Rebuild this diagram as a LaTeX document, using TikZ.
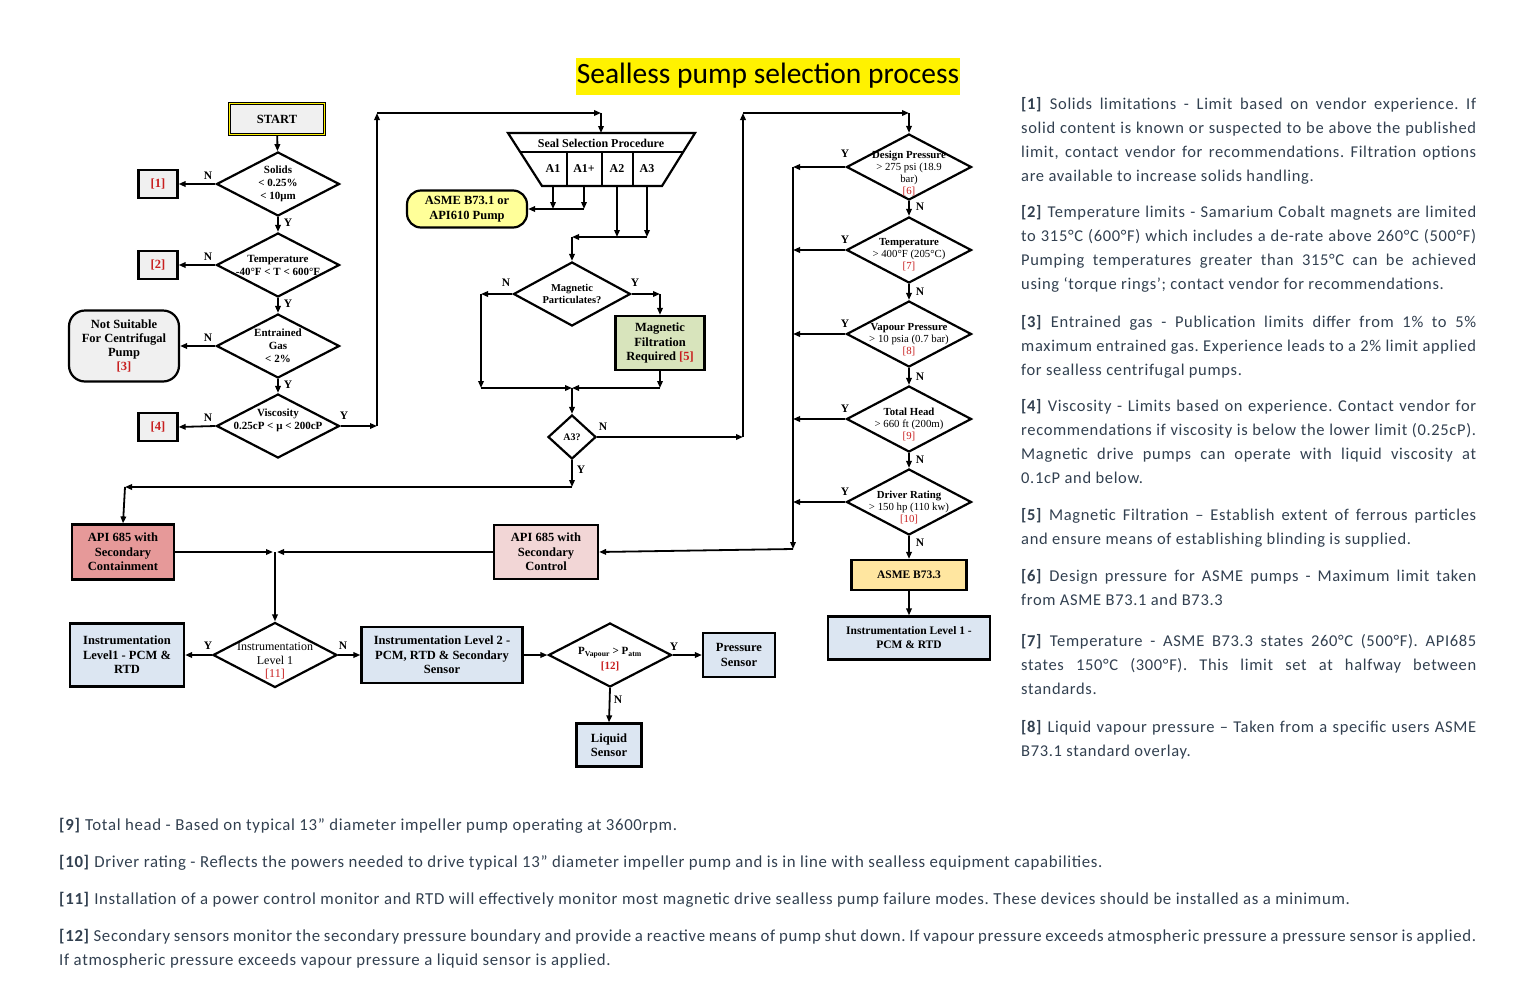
\documentclass[tikz,border=0pt]{standalone}
\usepackage{fontspec}
\setmainfont{Liberation Serif}
\newfontfamily\notefont[LetterSpace=4]{Carlito}
\newfontfamily\titlefont{Carlito}
\usetikzlibrary{shapes.geometric, arrows.meta}

\definecolor{boxgray}{RGB}{240,240,240}
\definecolor{refred}{RGB}{200,30,30}
\definecolor{paleyellow}{RGB}{255,255,153}
\definecolor{filtgreen}{RGB}{216,228,188}
\definecolor{contred}{RGB}{230,153,153}
\definecolor{ctrlpink}{RGB}{242,214,214}
\definecolor{asmeorange}{RGB}{255,230,160}
\definecolor{instblue}{RGB}{220,230,242}
\definecolor{notetext}{RGB}{50,64,80}

\newcommand{\refno}[1]{\textcolor{refred}{[#1]}}
\newcommand{\noteref}[1]{\textbf{[#1]}}
\hyphenpenalty=10000
\exhyphenpenalty=10000
\frenchspacing

\tikzset{
    flow/.style={draw, line width=2.2pt, align=center, inner sep=1pt,
        font=\bfseries\fontsize{12.5}{14.5}\selectfont},
    startbox/.style={flow, fill=boxgray, double=yellow, double distance=1.2pt,
        line width=1.2pt, minimum width=95pt, minimum height=31pt},
    refbox/.style={flow, fill=boxgray, minimum width=39pt, minimum height=28pt},
    stopbox/.style={flow, fill=boxgray, rounded corners=16pt, minimum width=110pt,
        minimum height=71pt, font=\bfseries\fontsize{12.5}{14}\selectfont},
    asmebox/.style={flow, fill=paleyellow, rounded corners=14pt,
        minimum width=120pt, minimum height=37pt},
    instbox/.style={flow, fill=instblue},
    decision/.style={diamond, draw, line width=2.2pt, inner sep=0pt,
        minimum width=123pt, minimum height=64pt},
    dtext/.style={align=center, inner sep=0pt, font=\bfseries\fontsize{11}{13}\selectfont},
    rtext/.style={align=center, inner sep=0pt, font=\fontsize{10.8}{12}\selectfont},
    celltext/.style={inner sep=0pt, font=\bfseries\fontsize{12}{13}\selectfont},
    yn/.style={inner sep=0pt, font=\bfseries\fontsize{11.5}{12}\selectfont},
    conn/.style={line width=1.8pt, -{Triangle[length=7pt,width=5.5pt]}},
    note/.style={anchor=base west, inner sep=0pt, text width=455pt, align=justify,
        text=notetext, font=\notefont\fontsize{16.5}{24}\selectfont},
    bnote/.style={anchor=base west, inner sep=0pt, text=notetext,
        font=\notefont\fontsize{16.8}{24}\selectfont},
}

\begin{document}
\begin{tikzpicture}[x=1pt, y=-1pt]
    \fill[white] (0,0) rectangle (1536,1004);
    \useasboundingbox (0,0) rectangle (1536,1004);

    % title
    \node[fill=yellow, inner sep=0pt, minimum width=384pt, minimum height=37pt,
        font=\titlefont\fontsize{29.5}{32}\selectfont] (title) at (768,76)
        {Sealless pump selection process};

    % left column
    \node[startbox] (start) at (277,119) {START};
    \node[decision, label={[dtext]center:{Solids\\< 0.25\%\\< 10μm}}] (solids) at (278,184) {};
    \node[decision, label={[dtext]center:{Temperature\\-40°F < T < 600°F}}] (temp) at (278,265) {};
    \node[decision, label={[dtext]center:{Entrained\\Gas\\< 2\%}}] (gas) at (278,346) {};
    \node[decision, label={[dtext, yshift=6pt]center:{Viscosity\\0.25cP < μ < 200cP}}] (visc) at (278,426) {};

    \node[refbox] (r1) at (158,184) {\refno{1}};
    \node[refbox] (r2) at (158,265) {\refno{2}};
    \node[stopbox] (nosuit) at (124,346) {Not Suitable\\For Centrifugal\\Pump\\\refno{3}};
    \node[refbox] (r4) at (158,427) {\refno{4}};

    \draw[conn] (start) -- (solids);
    \foreach \a/\b/\yy in {solids/temp/223, temp/gas/304, gas/visc/385} {
        \draw[conn] (\a.south) -- (\b.north);
        \node[yn] at (288,\yy) {Y};
    }
    \foreach \a/\b/\yy in {solids/r1/176, temp/r2/257, gas/nosuit/338, visc/r4/418} {
        \draw[conn] (\a.west) -- (\b.east);
        \node[yn] at (208,\yy) {N};
    }

    % up and over to the seal selection
    \coordinate (v1) at (377,426);
    \coordinate (v2) at (377,113);
    \coordinate (v3) at (601,113);
    \draw[conn] (visc.east) -- (v1);
    \draw[conn] (v1) -- (v2);
    \draw[conn] (v2) -- (v3);
    \draw[conn] (v3) -- (601,133);
    \node[yn] at (344,416) {Y};

    % seal selection procedure
    \draw[line width=2.2pt, fill=white] (508,133) -- (695,133) -- (662,186) -- (542,186) -- cycle;
    \draw[line width=1.6pt] (520,152) -- (683,152)
        (567,152) -- (567,186) (602,152) -- (602,186) (633,152) -- (633,186);
    \node[celltext] (seal) at (601,143) {Seal Selection Procedure};
    \node[celltext] (a1) at (553,169) {A1};
    \node[celltext] (a1p) at (584,169) {A1+};
    \node[celltext] (a2) at (617,169) {A2};
    \node[celltext] (a3) at (647,169) {A3};
    \coordinate (sealbot) at (601,187);

    \node[asmebox] (asme1) at (467,209) {ASME B73.1 or\\API610 Pump};
    \draw[conn] (a1 |- sealbot) -- (a1 |- asme1);
    \draw[conn] (a1p |- sealbot) -- (a1p |- asme1);
    \draw[conn] (a1p |- asme1) -- (asme1.east);

    % magnetic particulates
    \node[decision, minimum width=117pt, label={[dtext, font=\bfseries\fontsize{10.5}{12.5}\selectfont]center:{Magnetic\\Particulates?}}] (magpart) at (572,294) {};
    \node[flow, fill=filtgreen, minimum width=89pt, minimum height=54pt] (magfilt) at (660,343)
        {Magnetic\\Filtration\\Required \refno{5}};
    \coordinate (m1) at (572,237);
    \draw[conn] (a2 |- sealbot) -- (a2 |- m1);
    \draw[conn] (a3 |- sealbot) -- (a3 |- m1);
    \draw[conn] (a3 |- m1) -- (m1);
    \draw[conn] (m1) -- (magpart.north);

    \coordinate (jn) at (572,388);
    \coordinate (mw) at (481,294);
    \coordinate (me) at (660,294);
    \draw[conn] (magpart.west) -- (mw);
    \draw[conn] (mw) -- (mw |- jn);
    \draw[conn] (mw |- jn) -- (jn);
    \draw[conn] (magpart.east) -- (me);
    \draw[conn] (me) -- (magfilt.north);
    \draw[conn] (magfilt.south) -- (magfilt |- jn);
    \draw[conn] (magfilt |- jn) -- (jn);
    \node[yn] at (506,283) {N};
    \node[yn] at (635,283) {Y};

    % A3 ?
    \node[decision, minimum width=48pt, minimum height=44pt,
        label={[dtext, font=\bfseries\fontsize{10}{12}\selectfont]center:{A3?}}] (a3q) at (572,437) {};
    \draw[conn] (jn) -- (a3q.north);
    \coordinate (n1) at (743,437);
    \coordinate (n2) at (743,113);
    \coordinate (n3) at (909,113);
    \draw[conn] (a3q.east) -- (n1);
    \draw[conn] (n1) -- (n2);
    \draw[conn] (n2) -- (n3);
    \node[yn] at (603,427) {N};
    \coordinate (y1) at (572,487);
    \coordinate (y2) at (125,487);
    \draw[conn] (a3q.south) -- (y1);
    \draw[conn] (y1) -- (y2);
    \node[yn] at (581,470) {Y};

    % right column
    \node[decision, minimum width=125pt, minimum height=66pt,
        label={[rtext, yshift=-6pt]center:{\textbf{Design Pressure}\\> 275 psi (18.9\\bar)\\\refno{6}}}] (design) at (909,167) {};
    \node[decision, minimum width=125pt, minimum height=66pt,
        label={[rtext, yshift=-5pt]center:{\textbf{Temperature}\\> 400°F (205°C)\\\refno{7}}}] (rtemp) at (909,250) {};
    \node[decision, minimum width=125pt, minimum height=66pt,
        label={[rtext, yshift=-6pt]center:{\textbf{Vapour Pressure}\\> 10 psia (0.7 bar)\\\refno{8}}}] (vap) at (909,334) {};
    \node[decision, minimum width=125pt, minimum height=66pt,
        label={[rtext, yshift=-5pt]center:{\textbf{Total Head}\\> 660 ft (200m)\\\refno{9}}}] (head) at (909,419) {};
    \node[decision, minimum width=125pt, minimum height=66pt,
        label={[rtext, yshift=-5pt]center:{\textbf{Driver Rating}\\> 150 hp (110 kw)\\\refno{10}}}] (driver) at (909,502) {};
    \node[flow, fill=asmeorange, minimum width=115pt, minimum height=30pt,
        font=\bfseries\fontsize{11.5}{13}\selectfont] (asme3) at (909,575) {ASME B73.3};
    \node[instbox, minimum width=162pt, minimum height=43pt,
        font=\bfseries\fontsize{11.5}{14}\selectfont] (inst1r) at (909,638) {Instrumentation Level 1 -\\PCM \& RTD};

    \draw[conn] (n3) -- (design.north);
    \foreach \a/\b/\yy in {design/rtemp/207, rtemp/vap/292, vap/head/377, head/driver/460, driver/asme3/543} {
        \draw[conn] (\a.south) -- (\b.north);
        \node[yn] at (920,\yy) {N};
    }
    \draw[conn] (asme3) -- (inst1r);

    \coordinate (yb) at (793,549);
    \foreach \d/\yy in {design/154, rtemp/240, vap/324, head/409, driver/492} {
        \draw[conn] (\d.west) -- (\d.west -| yb);
        \node[yn] at (845,\yy) {Y};
    }
    \draw[conn] (yb |- design.west) -- (yb);

    % secondary containment / control
    \node[flow, fill=contred, minimum width=102pt, minimum height=55pt] (apic) at (123,552)
        {API 685 with\\Secondary\\Containment};
    \node[flow, fill=ctrlpink, minimum width=104pt, minimum height=54pt] (apictl) at (546,552)
        {API 685 with\\Secondary\\Control};
    \draw[conn] (y2) -- (apic.north);
    \draw[conn] (yb) -- (apictl.east);

    \coordinate (jc) at (275,552);
    \draw[conn] (apic.east) -- ([xshift=-2pt]jc);
    \draw[conn] (apictl.west) -- ([xshift=2pt]jc);

    % instrumentation
    \node[decision, minimum width=124pt, minimum height=65pt,
        label={[dtext, yshift=-6pt, font=\fontsize{12}{13.5}\selectfont]center:{Instrumentation\\Level 1\\\refno{11}}}] (inst) at (275,655) {};
    \draw[conn] (jc) -- (inst.north);
    \node[instbox, minimum width=114pt, minimum height=63pt] (lev1) at (127,655)
        {Instrumentation\\Level1 - PCM \&\\RTD};
    \node[instbox, minimum width=161pt, minimum height=56pt] (lev2) at (442,655)
        {Instrumentation Level 2 -\\PCM, RTD \& Secondary\\Sensor};
    \draw[conn] (inst.west) -- (lev1.east);
    \draw[conn] (inst.east) -- (lev2.west);
    \node[yn] at (208,646) {Y};
    \node[yn] at (343,646) {N};

    \node[decision, minimum width=123pt, minimum height=64pt,
        label={[dtext, yshift=-4pt]center:{P\textsubscript{Vapour} > P\textsubscript{atm}\\[2pt]\refno{12}}}] (pv) at (610,655) {};
    \node[instbox, minimum width=72pt, minimum height=44pt] (psens) at (739,655) {Pressure\\Sensor};
    \node[instbox, minimum width=65pt, minimum height=43pt] (lsens) at (609,745) {Liquid\\Sensor};
    \draw[conn] (lev2.east) -- (pv.west);
    \draw[conn] (pv.east) -- (psens.west);
    \draw[conn] (pv.south) -- (lsens.north);
    \node[yn] at (674,647) {Y};
    \node[yn] at (618,700) {N};

    % notes on the right
    \node[note] (t1) at (1021,109) {\noteref{1} Solids limitations - Limit based on vendor experience. If\linebreak
        solid content is known or suspected to be above the published\linebreak
        limit, contact vendor for recommendations. Filtration options\linebreak
        are available to increase solids handling.};
    \node[note] (t2) at (1021,217) {\noteref{2} Temperature limits - Samarium Cobalt magnets are limited\linebreak
        to 315°C (600°F) which includes a de-rate above 260°C (500°F)\linebreak
        Pumping temperatures greater than 315°C can be achieved\linebreak
        using ‘torque rings’; contact vendor for recommendations.};
    \node[note] (t3) at (1021,327) {\noteref{3} Entrained gas - Publication limits differ from 1\% to 5\%\linebreak
        maximum entrained gas. Experience leads to a 2\% limit applied\linebreak
        for sealless centrifugal pumps.};
    \node[note] (t4) at (1021,411) {\noteref{4} Viscosity - Limits based on experience. Contact vendor for\linebreak
        recommendations if viscosity is below the lower limit (0.25cP).\linebreak
        Magnetic drive pumps can operate with liquid viscosity at\linebreak
        0.1cP and below.};
    \node[note] (t5) at (1021,520) {\noteref{5} Magnetic Filtration – Establish extent of ferrous particles\linebreak
        and ensure means of establishing blinding is supplied.};
    \node[note] (t6) at (1021,581) {\noteref{6} Design pressure for ASME pumps - Maximum limit taken\linebreak
        from ASME B73.1 and B73.3};
    \node[note] (t7) at (1021,646) {\noteref{7} Temperature - ASME B73.3 states 260°C (500°F). API685\linebreak
        states 150°C (300°F). This limit set at halfway between\linebreak
        standards.};
    \node[note] (t8) at (1021,732) {\noteref{8} Liquid vapour pressure – Taken from a specific users ASME\linebreak
        B73.1 standard overlay.};

    % notes below
    \node[bnote] (t9) at (59,830) {\noteref{9} Total head - Based on typical 13” diameter impeller pump operating at 3600rpm.};
    \node[bnote] (t10) at (59,867) {\noteref{10} Driver rating - Reflects the powers needed to drive typical 13” diameter impeller pump and is in line with sealless equipment capabilities.};
    \node[bnote] (t11) at (59,904) {\noteref{11} Installation of a power control monitor and RTD will effectively monitor most magnetic drive sealless pump failure modes. These devices should be installed as a minimum.};
    \node[bnote, text width=1417pt, align=justify] (t12) at (59,941) {\noteref{12} Secondary sensors monitor the secondary pressure boundary and provide a reactive means of pump shut down. If vapour pressure exceeds atmospheric pressure a pressure sensor is applied.\linebreak
        If atmospheric pressure exceeds vapour pressure a liquid sensor is applied.};
\end{tikzpicture}
\end{document}
